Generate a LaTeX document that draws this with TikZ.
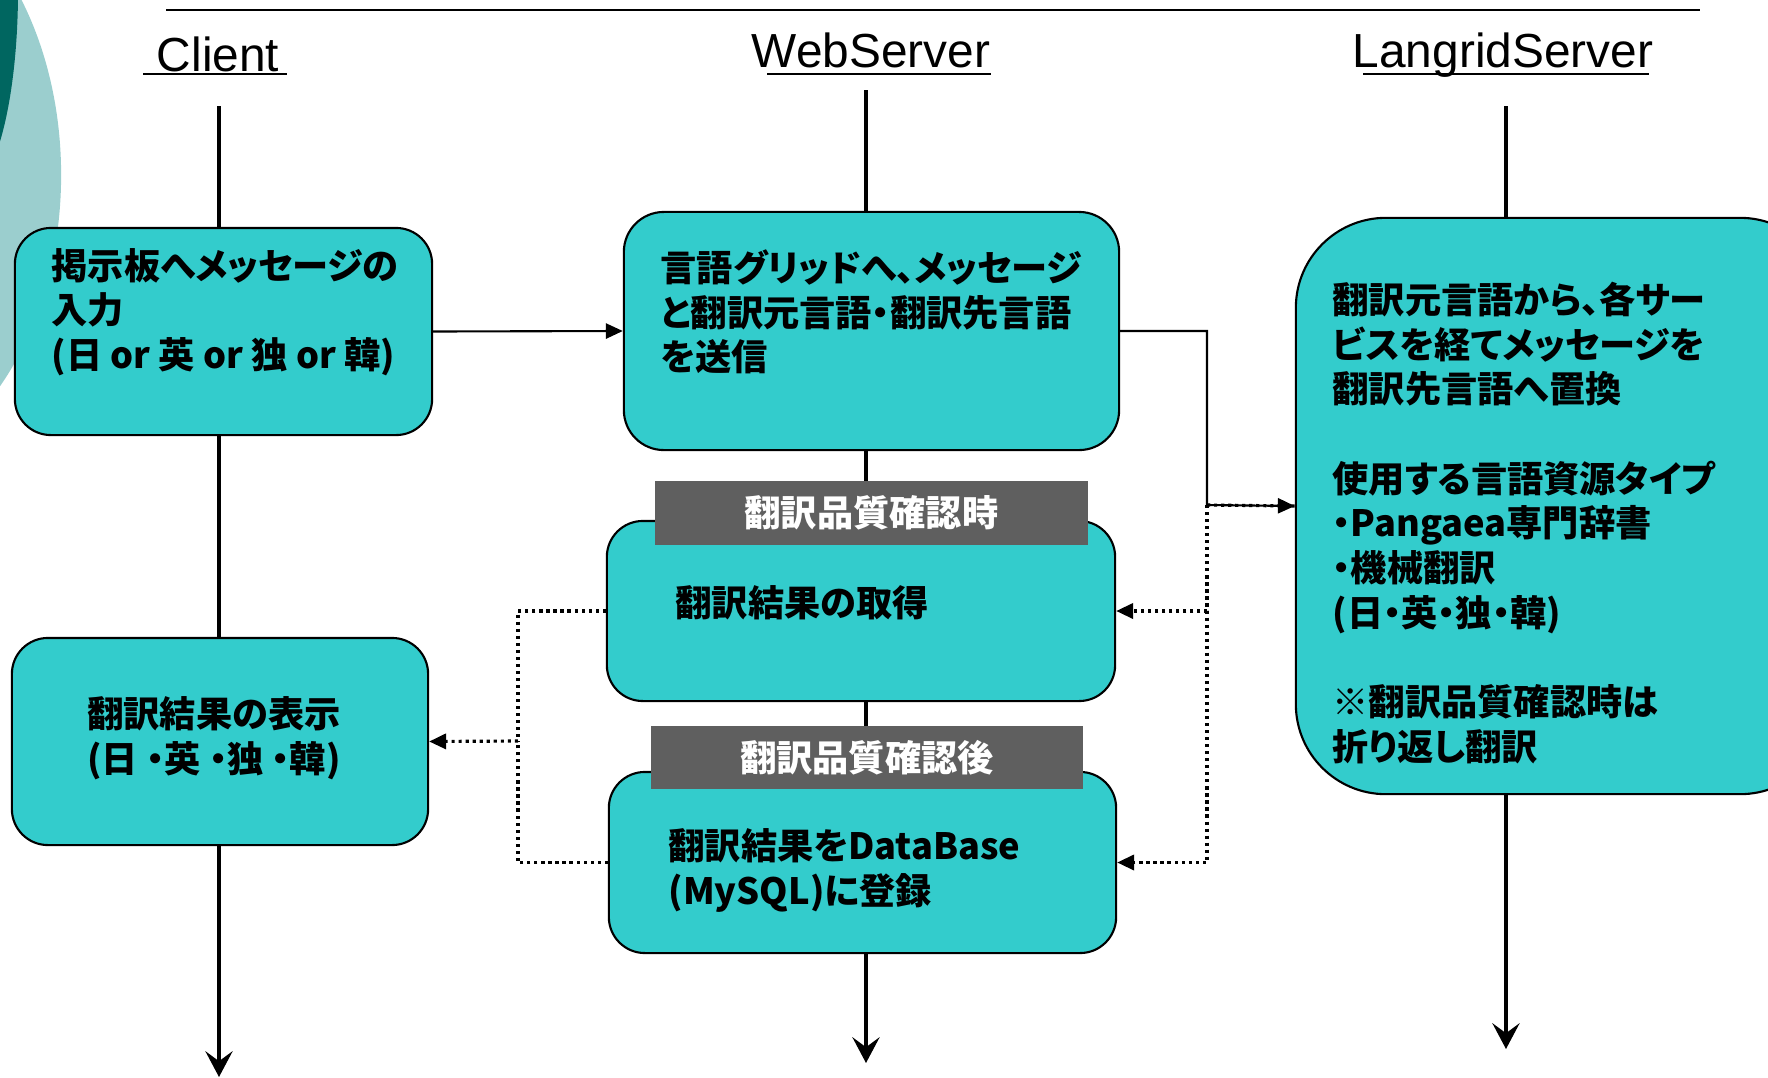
\documentclass[tikz,border=0pt]{standalone}
\usepackage{fontspec}
\setmainfont{Liberation Sans}
\newfontfamily\jpfont{Noto Sans CJK JP}[RawFeature={+palt}]
\usetikzlibrary{arrows.meta}
\definecolor{boxfill}{RGB}{51,204,204}
\definecolor{tagfill}{RGB}{95,95,95}
\definecolor{deco}{RGB}{155,206,206}
\definecolor{decodark}{RGB}{0,102,96}
\tikzset{
    head/.style={font=\fontsize{13.6}{16}\selectfont, inner sep=0, anchor=base},
    box/.style={draw, line width=0.6pt, fill=boxfill, rounded corners=0.36cm},
    tag/.style={fill=tagfill, text=white, inner sep=0, font=\jpfont\bfseries\fontsize{10.3}{12.7}\selectfont},
    txt/.style={inner sep=0, align=left, anchor=west, font=\jpfont\bfseries\fontsize{10.3}{12.7}\selectfont},
    life/.style={line width=1.3pt, -{Stealth[length=7.3pt, width=7.7pt, inset=2.8pt]}},
    conn/.style={line width=0.6pt, -{Triangle[length=4.8pt, width=4.3pt]}},
    dots/.style={line width=0.9pt, dash pattern=on 0.9pt off 1.1pt},
}

\begin{document}
\begin{tikzpicture}[x=0.01cm, y=-0.01cm]
    \useasboundingbox (0,0) rectangle (1768,1078);
    \clip (0,0) rectangle (1768,1078);

    % Background
    \fill[deco] (-150,175) ellipse [x radius=2.11cm, y radius=3cm];
    \fill[decodark] (-34,-10) ellipse [x radius=0.52cm, y radius=2cm];
    \draw[line width=0.6pt] (166,10) -- (1700,10);

    % Headers
    \node[head] (client) at (218,71) {Client};
    \node[head] (web) at (871,67) {WebServer};
    \node[head] (langrid) at (1503,67) {LangridServer};
    \draw[line width=0.6pt] (143,74) -- (287,74);
    \draw[line width=0.6pt] (767,74) -- (991,74);
    \draw[line width=0.6pt] (1363,74) -- (1649,74);

    % Lifelines
    \coordinate (clienttop) at (219,106);
    \coordinate (clientend) at (219,1077);
    \coordinate (webtop) at (866,90);
    \coordinate (webend) at (866,1063);
    \coordinate (langtop) at (1506,106);
    \coordinate (langend) at (1506,1049);
    \draw[life] (clienttop) -- (clientend);
    \draw[life] (webtop) -- (webend);
    \draw[life] (langtop) -- (langend);

    % Boxes
    \node[box, minimum width=4.17cm, minimum height=2.07cm] (input) at (223.5,331.5) {};
    \node[box, minimum width=4.95cm, minimum height=2.38cm, rounded corners=0.4cm] (send) at (871.5,331) {};
    \node[box, minimum width=5.08cm, minimum height=1.80cm] (fetch) at (861,611) {};
    \node[box, minimum width=5.07cm, minimum height=1.81cm] (store) at (862.5,862.5) {};
    \node[box, minimum width=4.16cm, minimum height=2.07cm] (show) at (220,741.5) {};
    \node[box, minimum width=5.34cm, minimum height=5.76cm, rounded corners=0.9cm] (trans) at (1563,506) {};

    % Tags
    \node[tag, minimum width=4.33cm, minimum height=0.64cm] (whentag) at (871.5,513) {翻訳品質確認時};
    \node[tag, minimum width=4.32cm, minimum height=0.63cm] (aftertag) at (867,757.5) {翻訳品質確認後};

    % Texts
    \node[txt] (inputtxt) at (51,312) {掲示板へメッセージの\\入力\\(日 or 英 or 独 or 韓)};
    \node[txt] (sendtxt) at (660,312) {言語グリッドへ、メッセージ\\と翻訳元言語・翻訳先言語\\を送信};
    \node[txt] (fetchtxt) at (675,603) {翻訳結果の取得};
    \node[txt] (storetxt) at (668,870.5) {翻訳結果をDataBase\\(MySQL)に登録};
    \node[txt, anchor=center, align=center] (showtxt) at (214,738.5) {翻訳結果の表示\\(日 ・英 ・独 ・韓)};
    \node[txt] (transtxt) at (1332,523) {翻訳元言語から、各サー\\ビスを経てメッセージを\\翻訳先言語へ置換\\[12.7pt]使用する言語資源タイプ\\・Pangaea専門辞書\\・機械翻訳\\(日・英・独・韓)\\[12.7pt]※翻訳品質確認時は\\折り返し翻訳};

    % Connectors
    \draw[conn] (input.east) -- (send.west);
    \coordinate (fork) at (1207,505);
    \draw[conn] (send.east) -| (fork) -- (trans.west);
    \draw[dots] (fork) -- (trans.west);
    \draw[dots, conn, line width=0.9pt] (fork) |- (fetch.east);
    \draw[dots, conn, line width=0.9pt] (fork) |- (store.east);
    \coordinate (back) at (518,741);
    \draw[dots] (fetch.west) -| (back);
    \draw[dots] (store.west) -| (back);
    \draw[dots, conn, line width=0.9pt] (back) -- (show.east);
\end{tikzpicture}
\end{document}
